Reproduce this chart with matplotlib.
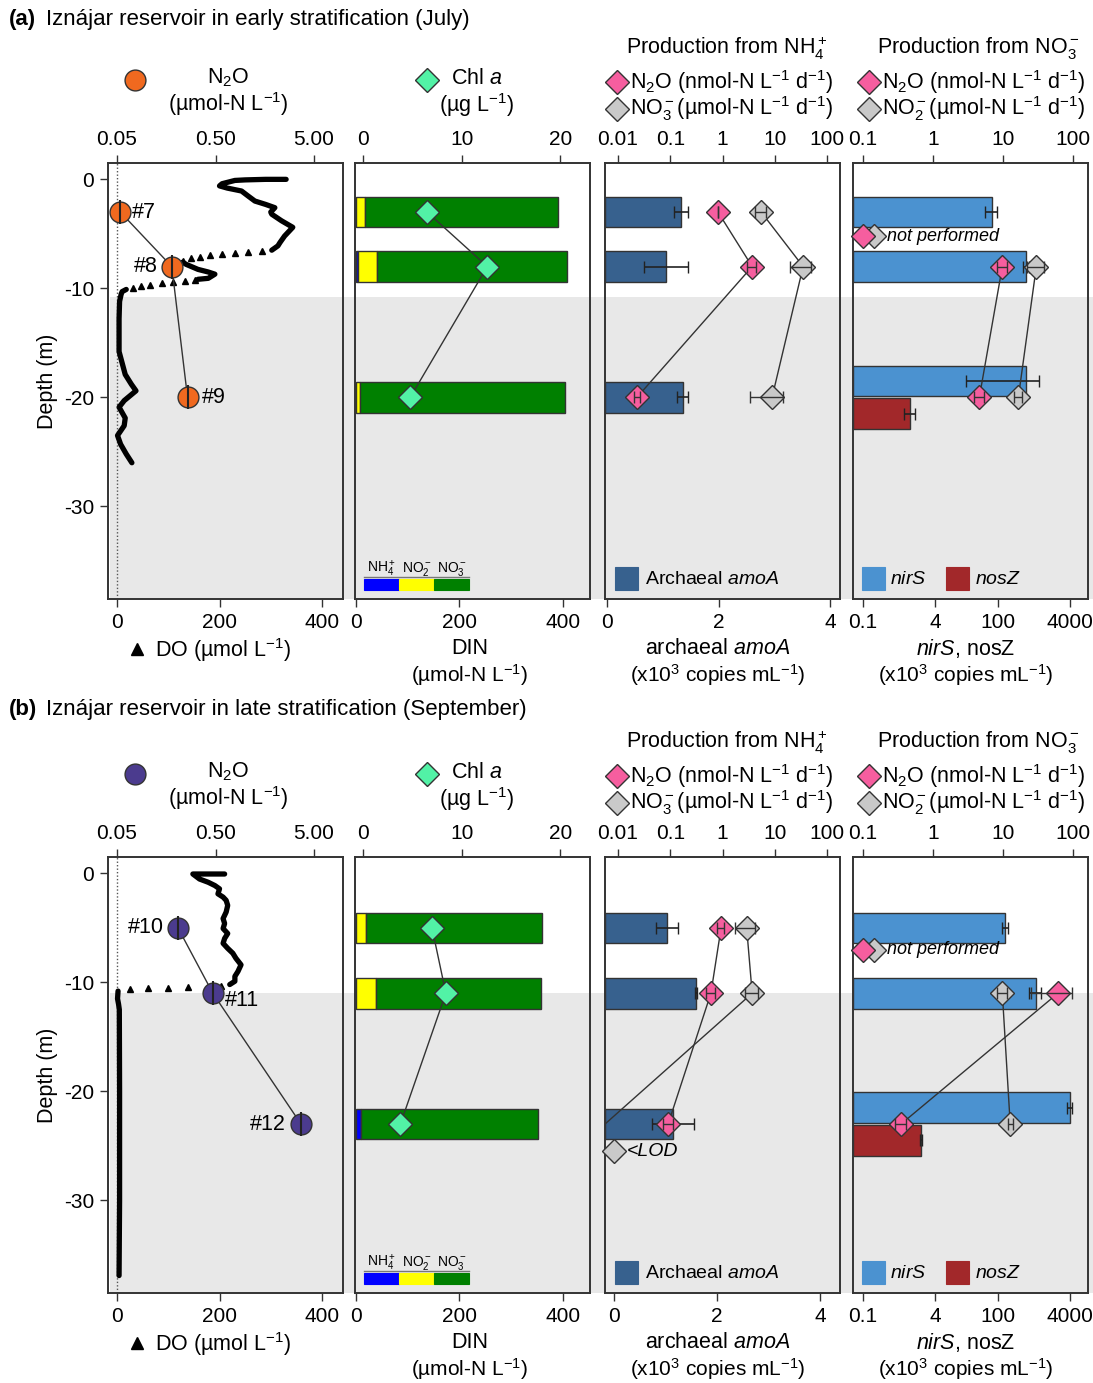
import numpy as np
import matplotlib
matplotlib.use("Agg")
import matplotlib.pyplot as plt
import matplotlib.transforms as mtransforms
from matplotlib.patches import Rectangle
from matplotlib.lines import Line2D
from matplotlib.ticker import NullLocator

plt.rcParams['font.family'] = ['Liberation Sans', 'DejaVu Sans']
plt.rcParams['mathtext.fontset'] = 'custom'
plt.rcParams['mathtext.rm'] = 'Liberation Sans'
plt.rcParams['mathtext.it'] = 'Liberation Sans:italic'
plt.rcParams['mathtext.bf'] = 'Liberation Sans:bold'
plt.rcParams['axes.unicode_minus'] = False

nan = np.nan

# ---------------- (a) July ----------------
depth_a = [-3, -8, -20]
n2o_a = [0.054, 0.18, 0.26]
n2o_lab_a = ["#7", "#8", "#9"]
chl_a = [6.5, 12.6, 4.8]
nh4_a = [0, 5, 0]
no2_a = [19, 37, 8]
no3_a = [371, 366, 396]
amoa_a = [1.33, 1.06, 1.36]
amoa_err_a = [0.12, 0.40, 0.10]
n2o_nh4_a = [0.82, 3.7, 0.023]
n2o_nh4_err_a = [0.0, 0.7, 0.003]
no3_nh4_a = [5.5, 35, 8.9]
no3_nh4_err_a = [1.4, 15, 5.6]
nirs_depth_a = [-3, -8, -18.5]
nirs_a = [74, 419, 419]
nirs_err_a = [23, 60, 400]
nosz_depth_a = [-21.5]
nosz_a = [1.1]
nosz_err_a = [0.3]
rate4_depth_a = [-8, -20]
n2o_no3_a = [9.8, 4.6]
n2o_no3_err_a = [1.5, 0.7]
no2_no3_a = [30, 16.6]
no2_no3_err_a = [8, 2]

do_depth_a = [0, 0, -0.05, -0.1, -0.4, -0.6, -0.8, -1.07, -1.5, -1.99, -2.3, -2.6, -3.0,
              -3.2, -3.8, -4.4, -5.2, -5.8, -6.1, -6.5, nan,
              -7.6, -7.8, -8.26, -8.5, -8.7, -9.08, -9.17, nan,
              -10.1, -10.3, -10.55, -11.2, -12.8, -15.8, -16.5, -17.9, -18.8, -19.4,
              -20.3, -20.9, -21.4, -21.9, -22.6, -23.5, -24.3, -25.2, -26.0]
do_a = [330, 290, 250, 230, 205, 200, 215, 243, 255, 269, 290, 308, 300,
        302, 321, 343, 327, 318, 314, 302, nan,
        128, 135, 158, 178, 191, 178, 158, nan,
        18, 10, 8, 5, 4, 4, 8, 16, 28, 37,
        14, 4, 10, 16, 14, 1, 7, 18, 29]
do_tri_depth_a = [-6.58, -6.64, -6.73, -6.82, -6.94, -7.1, -7.25, -7.5,
                  -9.23, -9.33, -9.42, -9.54, -9.69, -9.82, -9.94]
do_tri_a = [282, 256, 230, 204, 181, 161, 145, 129, 152, 132, 110, 87, 64, 47.5, 31]

# ---------------- (b) September ----------------
depth_b = [-5, -11, -23]
n2o_b = [0.208, 0.47, 3.69]
n2o_lab_b = ["#10", "#11", "#12"]
chl_b = [7.0, 8.4, 3.8]
nh4_b = [0, 0, 11]
no2_b = [21, 39, 0]
no3_b = [338, 318, 341]
amoa_b = [1.03, 1.59, 1.15]
amoa_err_b = [0.21, 0.02, 0.41]
n2o_nh4_b = [0.94, 0.6, 0.091]
n2o_nh4_err_b = [0.15, 0.12, 0.02]
no3_nh4_b = [2.9, 3.7, nan]
no3_nh4_err_b = [1.2, 1.0, 0]
nirs_depth_b = [-5, -11, -21.5]
nirs_b = [143, 700, 3981]
nirs_err_b = [20, 220, 500]
nosz_depth_b = [-24.5]
nosz_b = [1.95]
nosz_err_b = [0.1]
rate4_depth_b = [-11, -23]
n2o_no3_b = [61, 0.35]
n2o_no3_err_b = [36, 0.06]
no2_no3_b = [9.8, 12.7]
no2_no3_err_b = [1.5, 1.0]

do_depth_b = [-0.06, -0.06, -0.52, -0.82, -1.12, -1.42, -1.88, -2.18, -2.48, -2.94, -3.55,
              -4.15, -4.6, -5.06, -5.52, -5.97, -6.42, -6.88, -7.33, -7.79, -8.39, -9.0,
              -9.45, -9.9, -10.2, nan,
              -10.8, -11.5, -12.0, -12.5, -20, -30, -36.9]
do_b = [210, 148, 161, 178, 191, 200, 197, 207, 213, 216, 213,
        207, 210, 207, 216, 210, 207, 216, 226, 232, 242, 236,
        230, 230, 220, nan,
        2, 1, 3, 4.5, 5, 5, 4]
do_tri_depth_b = [-10.35, -10.4, -10.45, -10.5, -10.55, -10.6]
do_tri_b = [203, 178, 139, 100, 60, 25]

# colours
ORANGE = '#F0691F'
PURPLE = '#4B3B8E'
MINT = '#52F2A6'
PINK = '#F65E9F'
GREYD = '#C9C9C9'
AMOA = '#37618E'
NIRS = '#4B92D0'
NOSZ = '#A2282A'
SHADE = '#E8E8E8'
EDGE = '#333333'

FS = 15.5      # general text
TFS = 15       # tick labels

W, H = 1093, 1383
fig = plt.figure(figsize=(W / 100, H / 100), dpi=100)

def fx(px):
    return px / W

def fy(py):
    return 1 - py / H

def ftext(x, y, s, **kw):
    kw.setdefault('fontsize', FS)
    kw.setdefault('va', 'center')
    fig.text(fx(x), fy(y), s, **kw)

def fmark(x, y, **kw):
    fig.add_artist(Line2D([fx(x)], [fy(y)], transform=fig.transFigure, **kw))

def fsquare(x0, x1, y0, y1, color):
    fig.add_artist(Rectangle((fx(x0), fy(y1)), (x1 - x0) / W, (y1 - y0) / H,
                             transform=fig.transFigure, facecolor=color,
                             edgecolor=color, lw=0.8))

YLIM = (-38.5, 1.5)
cols = [(108, 343), (355, 590), (605, 840), (853, 1088)]
UNIT_RATE = " (nmol-N L$^{-1}$ d$^{-1}$)"

panels = [
    dict(dy=0, ty=20, lab="(a)", title="Iznájar reservoir in early stratification (July)",
         col=ORANGE, depth=depth_a, n2o=n2o_a, n2o_lab=n2o_lab_a,
         n2o_off=[(12, 0, 'left'), (-14, 0, 'right'), (14, 0, 'left')],
         do_d=do_depth_a, do_v=do_a, tri_d=do_tri_depth_a, tri_v=do_tri_a, shade=-10.8,
         chl=chl_a, nh4=nh4_a, no2=no2_a, no3=no3_a,
         amoa=amoa_a, amoa_err=amoa_err_a, amoa_xlim=(-0.03, 4.17),
         r1=n2o_nh4_a, r1e=n2o_nh4_err_a, r2=no3_nh4_a, r2e=no3_nh4_err_a,
         nirs_d=nirs_depth_a, nirs=nirs_a, nirs_e=nirs_err_a,
         nosz_d=nosz_depth_a, nosz=nosz_a, nosz_e=nosz_err_a,
         r4d=rate4_depth_a, r3=n2o_no3_a, r3e=n2o_no3_err_a, r4=no2_no3_a, r4e=no2_no3_err_a,
         np_d=-5.2),
    dict(dy=694, ty=710, lab="(b)", title="Iznájar reservoir in late stratification (September)",
         col=PURPLE, depth=depth_b, n2o=n2o_b, n2o_lab=n2o_lab_b,
         n2o_off=[(-14, 0, 'right'), (12, -7, 'left'), (-15, 0, 'right')],
         do_d=do_depth_b, do_v=do_b, tri_d=do_tri_depth_b, tri_v=do_tri_b, shade=-11.0,
         chl=chl_b, nh4=nh4_b, no2=no2_b, no3=no3_b,
         amoa=amoa_b, amoa_err=amoa_err_b, amoa_xlim=(-0.17, 4.38),
         r1=n2o_nh4_b, r1e=n2o_nh4_err_b, r2=no3_nh4_b, r2e=no3_nh4_err_b,
         nirs_d=nirs_depth_b, nirs=nirs_b, nirs_e=nirs_err_b,
         nosz_d=nosz_depth_b, nosz=nosz_b, nosz_e=nosz_err_b,
         r4d=rate4_depth_b, r3=n2o_no3_b, r3e=n2o_no3_err_b, r4=no2_no3_b, r4e=no2_no3_err_b,
         np_d=-7.0),
]

def style(ax, tw, first):
    for a in (ax, tw):
        for s in a.spines.values():
            s.set_color(EDGE)
            s.set_linewidth(1.2)
        a.tick_params(direction='out', length=6, width=1, color=EDGE, labelsize=TFS, pad=4)
    ax.set_ylim(YLIM)
    if first:
        ax.set_yticks([0, -10, -20, -30])
        ax.set_ylabel("Depth (m)", fontsize=FS, labelpad=4)
    else:
        ax.tick_params(left=False, labelleft=False)

def rates(tw, x, y, e, color):
    x = np.asarray(x, float)
    y = np.asarray(y, float)
    ok = np.isfinite(x)
    tw.plot(x[ok], y[ok], color=EDGE, lw=1, zorder=2)
    tw.plot(x[ok], y[ok], 'D', ms=12, mfc=color, mec=EDGE, mew=1, zorder=3, clip_on=False)
    tw.errorbar(x[ok], y[ok], xerr=np.asarray(e, float)[ok], fmt='none', ecolor=EDGE,
                elinewidth=1, capsize=4, zorder=4)

for p in panels:
    dy = p['dy']
    t, b = 163 + dy, 599 + dy
    axs = []
    for i, (l, r) in enumerate(cols):
        ax = fig.add_axes([fx(l), fy(b), (r - l) / W, (b - t) / H])
        ax.set_facecolor('none')
        tw = ax.twiny()
        style(ax, tw, i == 0)
        axs.append((ax, tw))

    # grey hypolimnion band
    tr = mtransforms.blended_transform_factory(fig.transFigure, axs[0][0].transData)
    fig.add_artist(Rectangle((fx(110), YLIM[0]), 1 - fx(110), p['shade'] - YLIM[0],
                             transform=tr, facecolor=SHADE, edgecolor='none', zorder=-10))

    depth = np.array(p['depth'])

    # ---- column 1: DO and N2O
    ax, tw = axs[0]
    ax.set_xlim(-17.6, 441)
    ax.set_xticks([0, 200, 400])
    tw.set_xscale('log')
    tw.set_xlim(0.0405, 9.85)
    tw.set_xticks([0.05, 0.5, 5])
    tw.set_xticklabels(["0.05", "0.50", "5.00"])
    tw.xaxis.set_minor_locator(NullLocator())
    ax.axvline(0, color='#555555', ls=(0, (1, 1.5)), lw=1)
    ax.plot(p['do_v'], p['do_d'], color='k', lw=3.8, solid_joinstyle='round',
            solid_capstyle='round')
    ax.plot(p['tri_v'], p['tri_d'], '^', color='k', ms=4.5, ls='none')
    tw.plot(p['n2o'], depth, color=EDGE, lw=1, zorder=2)
    tw.plot(p['n2o'], depth, 'o', ms=15, mfc=p['col'], mec=EDGE, mew=1, zorder=3)
    tw.plot(p['n2o'], depth, '|', ms=17, color='#222222', mew=1.5, zorder=4)
    for xv, yv, s, (ox, oy, ha) in zip(p['n2o'], depth, p['n2o_lab'], p['n2o_off']):
        tw.annotate(s, (xv, yv), xytext=(ox, oy), textcoords='offset pixels',
                    ha=ha, va='center', fontsize=FS)

    # ---- column 2: DIN + Chl a
    ax, tw = axs[1]
    ax.set_xlim(-1, 452)
    ax.set_xticks([0, 200, 400])
    tw.set_xlim(-0.8, 23)
    tw.set_xticks([0, 10, 20])
    nh4 = np.array(p['nh4'], float)
    no2 = np.array(p['no2'], float)
    no3 = np.array(p['no3'], float)
    ax.barh(depth, nh4, height=2.8, color='#0000FF', edgecolor=EDGE, lw=1)
    ax.barh(depth, no2, left=nh4, height=2.8, color='#FFFF00', edgecolor=EDGE, lw=1)
    ax.barh(depth, no3, left=nh4 + no2, height=2.8, color='#008000', edgecolor=EDGE, lw=1)
    tw.plot(p['chl'], depth, color=EDGE, lw=1, zorder=2)
    tw.plot(p['chl'], depth, 'D', ms=12, mfc=MINT, mec=EDGE, mew=1, zorder=3)

    # ---- column 3: archaeal amoA + production from NH4+
    ax, tw = axs[2]
    ax.set_xlim(p['amoa_xlim'])
    ax.set_xticks([0, 2, 4])
    x0 = p['amoa_xlim'][0]
    amoa = np.array(p['amoa'])
    ax.barh(depth, amoa - x0, left=x0, height=2.8, color=AMOA, edgecolor=EDGE, lw=1)
    ax.errorbar(amoa, depth, xerr=p['amoa_err'], fmt='none', ecolor='#222222',
                elinewidth=1.2, capsize=4)
    tw.set_xscale('log')
    tw.set_xlim(10 ** -2.25, 10 ** 2.25)
    tw.set_xticks([0.01, 0.1, 1, 10, 100])
    tw.set_xticklabels(["0.01", "0.1", "1", "10", "100"])
    tw.xaxis.set_minor_locator(NullLocator())
    r2 = np.array(p['r2'], float)
    if not np.isfinite(r2[-1]):
        # below detection: line runs to the axis edge
        tw.plot([r2[-2], tw.get_xlim()[0]], [depth[-2], depth[-1]], color=EDGE, lw=1, zorder=2)
        tw.plot([0.0084], [-25.5], 'D', ms=12, mfc=GREYD, mec=EDGE, mew=1, clip_on=False, zorder=3)
        tw.annotate("<LOD", (0.0084, -25.5), xytext=(13, 0), textcoords='offset pixels',
                    va='center', ha='left', fontsize=14, style='italic')
    rates(tw, r2, depth, p['r2e'], GREYD)
    rates(tw, p['r1'], depth, p['r1e'], PINK)

    # ---- column 4: nirS / nosZ + production from NO3-
    ax, tw = axs[3]
    ax.set_xscale('log')
    ax.set_xlim(0.06, 1e4)
    ax.set_xticks([0.1, 4, 100, 4000])
    ax.set_xticklabels(["0.1", "4", "100", "4000"])
    ax.xaxis.set_minor_locator(NullLocator())
    nirs = np.array(p['nirs'])
    nosz = np.array(p['nosz'])
    ax.barh(p['nirs_d'], nirs - 0.06, left=0.06, height=2.8, color=NIRS, edgecolor=EDGE, lw=1)
    ax.barh(p['nosz_d'], nosz - 0.06, left=0.06, height=2.8, color=NOSZ, edgecolor=EDGE, lw=1)
    ax.errorbar(nirs, p['nirs_d'], xerr=p['nirs_e'], fmt='none', ecolor='#222222',
                elinewidth=1.2, capsize=4)
    ax.errorbar(nosz, p['nosz_d'], xerr=p['nosz_e'], fmt='none', ecolor='#222222',
                elinewidth=1.2, capsize=4)
    tw.set_xscale('log')
    tw.set_xlim(10 ** -1.142, 10 ** 2.215)
    tw.set_xticks([0.1, 1, 10, 100])
    tw.set_xticklabels(["0.1", "1", "10", "100"])
    tw.xaxis.set_minor_locator(NullLocator())
    rates(tw, p['r4'], p['r4d'], p['r4e'], GREYD)
    rates(tw, p['r3'], p['r4d'], p['r3e'], PINK)
    tw.plot([0.143], [p['np_d']], 'D', ms=12, mfc=GREYD, mec=EDGE, mew=1, clip_on=False, zorder=3)
    tw.plot([0.1], [p['np_d']], 'D', ms=12, mfc=PINK, mec=EDGE, mew=1, clip_on=False, zorder=3)
    tw.annotate("not performed", (0.143, p['np_d']), xytext=(13, 0), textcoords='offset pixels',
                va='center', ha='left', fontsize=13, style='italic')

    # ---- titles and headers
    ftext(9, p['ty'], p['lab'], fontweight='bold', fontsize=16)
    ftext(46, p['ty'], p['title'], fontsize=16)

    fmark(135, 80 + dy, marker='o', ms=15, mfc=p['col'], mec=EDGE, mew=1)
    ftext(228, 78 + dy, "N$_2$O", ha='center')
    ftext(228, 104 + dy, "(µmol-N L$^{-1}$)", ha='center')

    fmark(427, 80 + dy, marker='D', ms=12, mfc=MINT, mec=EDGE, mew=1)
    ftext(477, 78 + dy, "Chl $a$", ha='center')
    ftext(477, 105 + dy, "(µg L$^{-1}$)", ha='center')

    ftext(727, 48 + dy, "Production from NH$_4^+$", ha='center')
    fmark(617, 82 + dy, marker='D', ms=12, mfc=PINK, mec=EDGE, mew=1)
    ftext(630, 82 + dy, "N$_2$O" + UNIT_RATE, ha='left')
    fmark(617, 109 + dy, marker='D', ms=12, mfc=GREYD, mec=EDGE, mew=1)
    ftext(630, 109 + dy, "NO$_3^-$(µmol-N L$^{-1}$ d$^{-1}$)", ha='left')

    ftext(978, 48 + dy, "Production from NO$_3^-$", ha='center')
    fmark(869, 82 + dy, marker='D', ms=12, mfc=PINK, mec=EDGE, mew=1)
    ftext(882, 82 + dy, "N$_2$O" + UNIT_RATE, ha='left')
    fmark(869, 109 + dy, marker='D', ms=12, mfc=GREYD, mec=EDGE, mew=1)
    ftext(882, 109 + dy, "NO$_2^-$(µmol-N L$^{-1}$ d$^{-1}$)", ha='left')

    # bottom axis labels
    fmark(137, 649 + dy, marker='^', ms=9, color='k', ls='none')
    ftext(155, 650 + dy, "DO (µmol L$^{-1}$)", ha='left')
    ftext(470, 648 + dy, "DIN", ha='center')
    ftext(470, 675 + dy, "(µmol-N L$^{-1}$)", ha='center', fontsize=15)
    ftext(718, 648 + dy, "archaeal $amoA$", ha='center')
    ftext(718, 675 + dy, "(x10$^3$ copies mL$^{-1}$)", ha='center', fontsize=15)
    ftext(966, 648 + dy, "$nirS$, nosZ", ha='center')
    ftext(966, 675 + dy, "(x10$^3$ copies mL$^{-1}$)", ha='center', fontsize=15)

    # in-panel legends
    segs = [(364, 399, '#0000FF', "NH$_4^+$"), (399, 434, '#FFFF00', "NO$_2^-$"),
            (434, 469, '#008000', "NO$_3^-$")]
    for xa, xb, c, s in segs:
        fsquare(xa, xb, 579 + dy, 590 + dy, c)
        ftext((xa + xb) / 2, 569 + dy, s, ha='center', fontsize=10)
    fig.add_artist(Line2D([fx(364), fx(469)], [fy(577 + dy)] * 2, transform=fig.transFigure,
                          color='#777777', lw=1))
    fsquare(615, 638, 567 + dy, 590 + dy, AMOA)
    ftext(645, 579 + dy, "Archaeal $amoA$", ha='left', fontsize=14)
    fsquare(862, 885, 567 + dy, 590 + dy, NIRS)
    ftext(890, 579 + dy, "$nirS$", ha='left', fontsize=14)
    fsquare(946, 969, 567 + dy, 590 + dy, NOSZ)
    ftext(975, 579 + dy, "$nosZ$", ha='left', fontsize=14)

fig.savefig("out.png", dpi=100)
